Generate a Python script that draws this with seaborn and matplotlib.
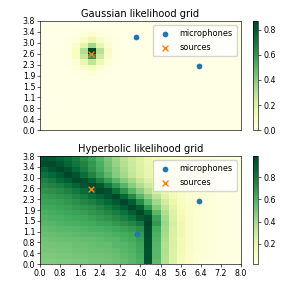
import numpy as np
import matplotlib
matplotlib.use("Agg")
import matplotlib.pyplot as plt
import seaborn as sns

# room size in metres
room_width = 8.0
room_length = 3.8

x_tick_labels = ["0.0", "0.8", "1.6", "2.4", "3.2", "4.0", "4.8", "5.6", "6.4", "7.2", "8.0"]
y_tick_labels = ["0.0", "0.4", "0.8", "1.1", "1.5", "1.9", "2.3", "2.6", "3.0", "3.4", "3.8"]

# microphone / source positions (m)
mics_gauss_x = [3.82, 6.33]
mics_gauss_y = [3.24, 2.23]
mics_hyper_x = [3.86, 6.33]
mics_hyper_y = [1.06, 2.23]
source_x = [2.03]
source_y = [2.65]

# likelihood grids in percent, top row (y = 3.8) first, 25 columns x 20 rows
gauss_grid = [
    [0, 0, 0, 0, 0, 0, 0, 0, 0, 0, 0, 0, 0, 0, 0, 0, 0, 0, 0, 0, 0, 0, 0, 0, 0],
    [0, 0, 0, 0, 1, 1, 2, 1, 1, 0, 0, 0, 0, 0, 0, 0, 0, 0, 0, 0, 0, 0, 0, 0, 0],
    [0, 0, 0, 0, 1, 3, 6, 3, 1, 0, 0, 0, 0, 0, 0, 0, 0, 0, 0, 0, 0, 0, 0, 0, 0],
    [0, 0, 0, 1, 3, 8, 15, 8, 3, 1, 0, 0, 0, 0, 0, 0, 0, 0, 0, 0, 0, 0, 0, 0, 0],
    [0, 0, 0, 1, 6, 17, 35, 16, 5, 1, 0, 0, 0, 0, 0, 0, 0, 0, 0, 0, 0, 0, 0, 0, 0],
    [0, 0, 0, 2, 9, 32, 87, 30, 8, 2, 0, 0, 0, 0, 0, 0, 0, 0, 0, 0, 0, 0, 0, 0, 0],
    [0, 0, 0, 2, 8, 27, 60, 25, 7, 1, 0, 0, 0, 0, 0, 0, 0, 0, 0, 0, 0, 0, 0, 0, 0],
    [0, 0, 0, 1, 5, 15, 28, 14, 4, 1, 0, 0, 0, 0, 0, 0, 0, 0, 0, 0, 0, 0, 0, 0, 0],
    [0, 0, 0, 1, 3, 7, 11, 6, 2, 0, 0, 0, 0, 0, 0, 0, 0, 0, 0, 0, 0, 0, 0, 0, 0],
    [0, 0, 0, 0, 1, 2, 4, 2, 1, 0, 0, 0, 0, 0, 0, 0, 0, 0, 0, 0, 0, 0, 0, 0, 0],
    [0, 0, 0, 0, 0, 1, 1, 1, 0, 0, 0, 0, 0, 0, 0, 0, 0, 0, 0, 0, 0, 0, 0, 0, 0],
    [0, 0, 0, 0, 0, 0, 0, 0, 0, 0, 0, 0, 0, 0, 0, 0, 0, 0, 0, 0, 0, 0, 0, 0, 0],
    [0, 0, 0, 0, 0, 0, 0, 0, 0, 0, 0, 0, 0, 0, 0, 0, 0, 0, 0, 0, 0, 0, 0, 0, 0],
    [0, 0, 0, 0, 0, 0, 0, 0, 0, 0, 0, 0, 0, 0, 0, 0, 0, 0, 0, 0, 0, 0, 0, 0, 0],
    [0, 0, 0, 0, 0, 0, 0, 0, 0, 0, 0, 0, 0, 0, 0, 0, 0, 0, 0, 0, 0, 0, 0, 0, 0],
    [0, 0, 0, 0, 0, 0, 0, 0, 0, 0, 0, 0, 0, 0, 0, 0, 0, 0, 0, 0, 0, 0, 0, 0, 0],
    [0, 0, 0, 0, 0, 0, 0, 0, 0, 0, 0, 0, 0, 0, 0, 0, 0, 0, 0, 0, 0, 0, 0, 0, 0],
    [0, 0, 0, 0, 0, 0, 0, 0, 0, 0, 0, 0, 0, 0, 0, 0, 0, 0, 0, 0, 0, 0, 0, 0, 0],
    [0, 0, 0, 0, 0, 0, 0, 0, 0, 0, 0, 0, 0, 0, 0, 0, 0, 0, 0, 0, 0, 0, 0, 0, 0],
    [0, 0, 0, 0, 0, 0, 0, 0, 0, 0, 0, 0, 0, 0, 0, 0, 0, 0, 0, 0, 0, 0, 0, 0, 0],
]

hyper_grid = [
    [93, 92, 88, 83, 78, 72, 66, 58, 50, 42, 35, 29, 23, 18, 14, 11, 9, 8, 7, 6, 5, 5, 4, 4, 4],
    [96, 97, 93, 87, 81, 75, 68, 60, 52, 44, 37, 30, 24, 19, 15, 12, 9, 8, 7, 6, 5, 5, 4, 4, 4],
    [88, 94, 98, 94, 86, 78, 70, 62, 54, 46, 38, 31, 25, 20, 15, 12, 10, 8, 7, 6, 5, 5, 4, 4, 4],
    [82, 86, 92, 98, 93, 84, 75, 66, 57, 48, 40, 32, 26, 20, 16, 12, 10, 8, 7, 6, 5, 5, 4, 4, 3],
    [77, 80, 85, 91, 97, 96, 87, 77, 67, 57, 48, 40, 32, 25, 19, 14, 11, 9, 7, 6, 5, 5, 4, 4, 3],
    [73, 75, 78, 82, 87, 93, 98, 92, 80, 68, 57, 47, 38, 30, 22, 16, 12, 9, 7, 6, 5, 5, 4, 4, 3],
    [70, 71, 73, 76, 80, 85, 90, 97, 95, 83, 70, 58, 47, 37, 27, 19, 14, 10, 8, 6, 5, 5, 4, 4, 3],
    [67, 68, 70, 72, 75, 78, 83, 88, 94, 98, 87, 73, 58, 46, 34, 23, 16, 11, 8, 7, 6, 5, 4, 4, 3],
    [65, 66, 67, 69, 71, 74, 77, 81, 86, 92, 98, 90, 73, 56, 41, 28, 19, 13, 9, 7, 6, 5, 4, 4, 3],
    [63, 64, 65, 66, 68, 70, 72, 75, 79, 84, 91, 98, 90, 68, 48, 33, 22, 14, 10, 8, 6, 5, 4, 4, 3],
    [61, 62, 63, 64, 65, 67, 69, 71, 74, 78, 83, 90, 98, 85, 57, 37, 24, 15, 10, 8, 6, 5, 4, 4, 3],
    [59, 60, 61, 62, 63, 64, 66, 68, 70, 73, 77, 82, 92, 96, 65, 40, 26, 16, 11, 8, 6, 5, 4, 4, 3],
    [57, 58, 59, 60, 61, 62, 63, 65, 66, 68, 71, 74, 80, 99, 68, 42, 27, 17, 11, 8, 6, 5, 4, 4, 3],
    [55, 56, 57, 57, 58, 59, 60, 61, 62, 64, 66, 68, 72, 97, 62, 40, 26, 17, 11, 8, 6, 5, 4, 4, 3],
    [54, 54, 55, 55, 56, 57, 57, 58, 59, 61, 62, 64, 68, 96, 60, 39, 26, 17, 11, 8, 6, 5, 4, 4, 3],
    [52, 53, 53, 54, 54, 55, 55, 56, 57, 58, 60, 62, 66, 95, 59, 38, 25, 16, 11, 8, 6, 5, 4, 4, 3],
    [51, 51, 52, 52, 53, 53, 54, 55, 55, 57, 58, 60, 64, 95, 58, 37, 25, 16, 11, 8, 6, 5, 4, 4, 3],
    [50, 50, 51, 51, 52, 52, 53, 53, 54, 55, 57, 59, 63, 94, 57, 37, 24, 16, 10, 8, 6, 5, 4, 3, 3],
    [49, 49, 50, 50, 51, 51, 52, 52, 53, 54, 56, 58, 62, 94, 57, 36, 24, 15, 10, 7, 6, 5, 4, 3, 3],
    [48, 48, 49, 49, 50, 50, 51, 51, 52, 53, 55, 57, 61, 93, 56, 36, 24, 15, 10, 7, 5, 4, 4, 3, 2],
]

FS = 5.7
LW = 0.45


def draw_grid(ax, cax, grid, mic_x, mic_y, title, show_x):
    data = np.array(grid) / 100.0
    n_rows, n_cols = data.shape
    sns.heatmap(data, ax=ax, cbar_ax=cax, cmap="YlGn", xticklabels=False, yticklabels=False)
    for s in ax.spines.values():
        s.set_visible(True)
        s.set_linewidth(LW)
    cb = ax.collections[0].colorbar
    cb.outline.set_visible(True)
    cb.outline.set_linewidth(LW)
    cax.tick_params(labelsize=FS, width=LW, length=1.9, pad=1.5)

    # metres -> heatmap cell units (row 0 is at the top)
    cw = room_width / n_cols
    ch = room_length / n_rows
    sns.scatterplot(x=np.array(mic_x) / cw, y=(room_length - np.array(mic_y)) / ch,
                    ax=ax, color="C0", s=17, linewidth=0, label="microphones")
    sns.scatterplot(x=np.array(source_x) / cw, y=(room_length - np.array(source_y)) / ch,
                    ax=ax, color="C1", marker="x", s=18, linewidth=1.0, label="sources")
    ax.set_xlim(0, n_cols)
    ax.set_ylim(n_rows, 0)

    ax.set_yticks(np.linspace(0, n_rows, len(y_tick_labels)))
    ax.set_yticklabels(y_tick_labels[::-1], rotation=0)
    if show_x:
        ax.set_xticks(np.linspace(0, n_cols, len(x_tick_labels)))
        ax.set_xticklabels(x_tick_labels, rotation=0)
        ax.set_xlabel("Width (m)", fontsize=FS, labelpad=2)
    else:
        ax.set_xticks([])
        ax.set_xlabel("")
    ax.tick_params(labelsize=FS, width=LW, length=1.9, pad=1.5)
    ax.set_ylabel("Length (m)", fontsize=FS, labelpad=2)
    ax.set_title(title, fontsize=7.1, pad=3)
    ax.legend(loc="upper right", fontsize=5.9, borderpad=0.5, labelspacing=0.6,
              handletextpad=0.8, borderaxespad=0.5, framealpha=0.8)


fig = plt.figure(figsize=(3, 3), dpi=100)
ax1 = fig.add_axes([0.133, 0.566, 0.67, 0.364])
cax1 = fig.add_axes([0.843, 0.566, 0.018, 0.364])
ax2 = fig.add_axes([0.133, 0.12, 0.67, 0.36])
cax2 = fig.add_axes([0.843, 0.12, 0.018, 0.36])

draw_grid(ax1, cax1, gauss_grid, mics_gauss_x, mics_gauss_y, "Gaussian likelihood grid", False)
draw_grid(ax2, cax2, hyper_grid, mics_hyper_x, mics_hyper_y, "Hyperbolic likelihood grid", True)

fig.savefig("out.png", dpi=100)
